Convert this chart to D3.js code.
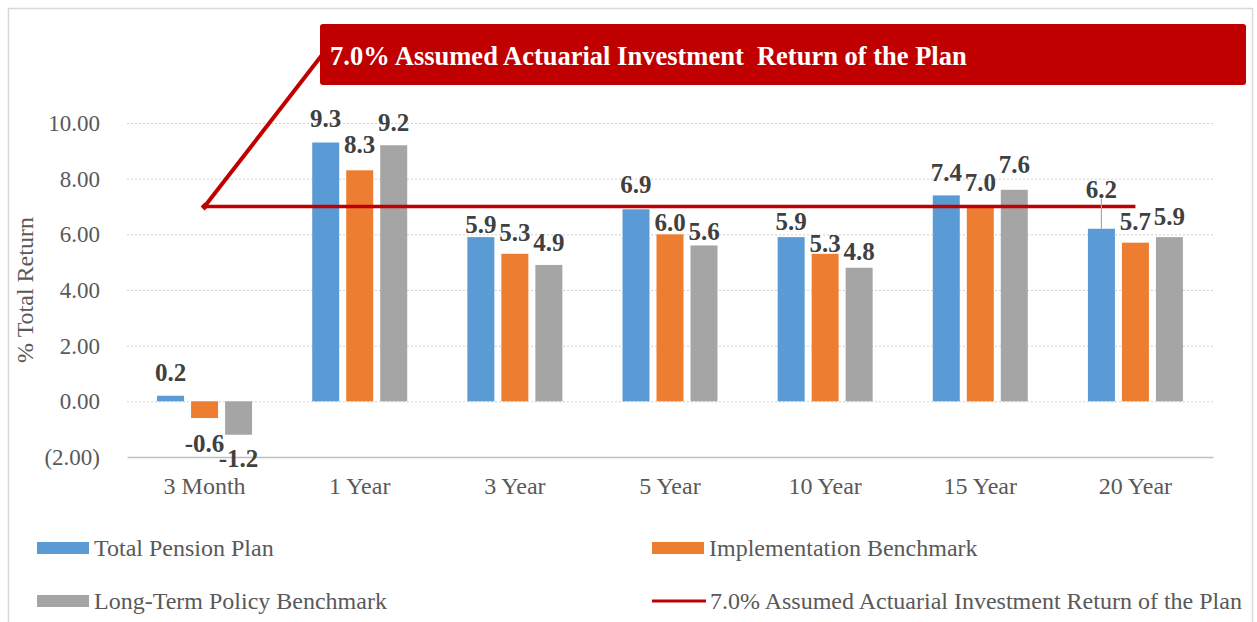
<!DOCTYPE html>
<html>
<head>
<meta charset="utf-8">
<script src="https://cdn.jsdelivr.net/npm/d3@7"></script>
<style>
  html, body { margin: 0; padding: 0; background: #fff; }
  svg { display: block; }
</style>
</head>
<body>
<svg id="chart" width="1257" height="622"></svg>
<script>
// ---- data ----
const categories = ["3 Month", "1 Year", "3 Year", "5 Year", "10 Year", "15 Year", "20 Year"];
const seriesNames = ["Total Pension Plan", "Implementation Benchmark", "Long-Term Policy Benchmark"];
const totalPensionPlan = [0.2, 9.3, 5.9, 6.9, 5.9, 7.4, 6.2];
const implementationBenchmark = [-0.6, 8.3, 5.3, 6.0, 5.3, 7.0, 5.7];
const longTermPolicyBenchmark = [-1.2, 9.2, 4.9, 5.6, 4.8, 7.6, 5.9];
const assumedReturn = [7.0, 7.0, 7.0, 7.0, 7.0, 7.0, 7.0];
const lineName = "7.0% Assumed Actuarial Investment Return of the Plan";
const calloutText = "7.0% Assumed Actuarial Investment\u00a0 Return of the Plan";
const yTicks = [-2, 0, 2, 4, 6, 8, 10];

// ---- styling (label nudges in px, not data) ----
const colors = ["#5B9BD5", "#ED7D31", "#A5A5A5"];
const red = "#C00000";
const labelDy = [
  [-24, 25, 24],
  [-24, -26, -23],
  [-13, -22, -23],
  [-25, -12, -14],
  [-16, -11, -16],
  [-23, -24, -26],
  [-40, -21, -21]
];

const seriesValues = [totalPensionPlan, implementationBenchmark, longTermPolicyBenchmark];
const svg = d3.select("#chart");
const font = "'Liberation Serif', 'Times New Roman', serif";
const fmt1 = v => d3.format(".1f")(v).replace("\u2212", "-");
const fmt2 = v => v < 0 ? "(" + d3.format(".2f")(-v) + ")" : d3.format(".2f")(v);

// frame
svg.append("rect").attr("x", 8.5).attr("y", 8.5).attr("width", 1244).attr("height", 630)
  .attr("fill", "#fff").attr("stroke", "#D9D9D9").attr("stroke-width", 1.5);

const x = d3.scaleBand().domain(categories).range([127, 1213]).padding(0);
const xs = d3.scaleBand().domain(d3.range(3)).range([-47.5, 47.5]).paddingInner(0.206).paddingOuter(0);
const y = d3.scaleLinear().domain([-2, 10]).range([457, 123]);

// gridlines
svg.append("g").selectAll("line").data(yTicks.filter(t => t !== -2)).join("line")
  .attr("x1", 127).attr("x2", 1213)
  .attr("y1", d => y(d) + 0.5).attr("y2", d => y(d) + 0.5)
  .attr("stroke", "#D0D0D0").attr("stroke-width", 1).attr("stroke-dasharray", "2,2");

// y axis labels
const yAxis = svg.append("g").attr("transform", "translate(127,0)")
  .call(d3.axisLeft(y).tickValues(yTicks).tickSize(0).tickPadding(27).tickFormat(fmt2));
yAxis.select(".domain").remove();
yAxis.selectAll("text").attr("font-family", font).attr("font-size", 23).attr("fill", "#595959");

// x axis
const xAxis = svg.append("g").attr("transform", `translate(0,${y(-2)})`)
  .call(d3.axisBottom(x).tickSize(0).tickPadding(20));
xAxis.select(".domain").attr("stroke", "#BFBFBF").attr("stroke-width", 1.5);
xAxis.selectAll("text").attr("font-family", font).attr("font-size", 24).attr("fill", "#595959");

// y title
svg.append("text").attr("transform", "translate(33,290) rotate(-90)")
  .attr("text-anchor", "middle").attr("font-family", font).attr("font-size", 24)
  .attr("fill", "#595959").text("% Total Return");

// bars
const flat = [];
categories.forEach((c, i) => seriesValues.forEach((vals, s) => flat.push({c, i, s, v: vals[i]})));
svg.append("g").selectAll("rect").data(flat).join("rect")
  .attr("x", d => x(d.c) + x.bandwidth() / 2 + xs(d.s))
  .attr("width", xs.bandwidth())
  .attr("y", d => y(Math.max(0, d.v)))
  .attr("height", d => Math.abs(y(d.v) - y(0)))
  .attr("fill", d => colors[d.s]);

// 7% line
const line = d3.line().x((d, i) => x(categories[i]) + x.bandwidth() / 2).y(d => y(d));
svg.append("path").datum(assumedReturn).attr("d", line)
  .attr("fill", "none").attr("stroke", red).attr("stroke-width", 3.5);

// leader line for 20 Year total plan label
{
  const i = 6, s = 0;
  const cx = x(categories[i]) + x.bandwidth() / 2 + xs(s) + xs.bandwidth() / 2;
  svg.append("line").attr("x1", cx).attr("x2", cx)
    .attr("y1", y(totalPensionPlan[i]) + labelDy[i][s] + 10).attr("y2", y(totalPensionPlan[i]))
    .attr("stroke", "#A6A6A6").attr("stroke-width", 1.2);
}

// data labels
svg.append("g").selectAll("text").data(flat).join("text")
  .attr("x", d => x(d.c) + x.bandwidth() / 2 + xs(d.s) + xs.bandwidth() / 2)
  .attr("y", d => y(d.v) + labelDy[d.i][d.s])
  .attr("dy", "0.35em")
  .attr("text-anchor", "middle").attr("font-family", font).attr("font-size", 25)
  .attr("font-weight", "bold").attr("fill", "#404040")
  .text(d => fmt1(d.v));

// callout
const anchorX = x(categories[0]) + x.bandwidth() / 2, anchorY = y(assumedReturn[0]);
svg.append("line").attr("x1", anchorX).attr("y1", anchorY).attr("x2", 322).attr("y2", 55)
  .attr("stroke", red).attr("stroke-width", 4);
svg.append("path").attr("d", d3.symbol(d3.symbolDiamond2, 40)())
  .attr("transform", `translate(${anchorX},${anchorY})`).attr("fill", red);
svg.append("rect").attr("x", 320).attr("y", 24).attr("width", 926).attr("height", 61)
  .attr("rx", 3).attr("fill", red);
svg.append("text").attr("x", 330).attr("y", 56).attr("dy", "0.35em")
  .attr("font-family", font).attr("font-size", 26.5).attr("font-weight", "bold")
  .attr("fill", "#fff").text(calloutText);

// legend
const legendItems = [
  {name: seriesNames[0], type: "bar", color: colors[0], x: 37, y: 548},
  {name: seriesNames[1], type: "bar", color: colors[1], x: 652, y: 548},
  {name: seriesNames[2], type: "bar", color: colors[2], x: 37, y: 601},
  {name: lineName, type: "line", color: red, x: 652, y: 601}
];
const lg = svg.append("g").selectAll("g").data(legendItems).join("g")
  .attr("transform", d => `translate(${d.x},${d.y})`);
lg.filter(d => d.type === "bar").append("rect")
  .attr("x", 0).attr("y", -6).attr("width", 52).attr("height", 12).attr("fill", d => d.color);
lg.filter(d => d.type === "line").append("line")
  .attr("x1", 0).attr("x2", 54).attr("y1", 0).attr("y2", 0)
  .attr("stroke", d => d.color).attr("stroke-width", 3);
lg.append("text").attr("x", d => d.type === "bar" ? 57 : 58).attr("y", 0).attr("dy", "0.35em")
  .attr("font-family", font).attr("font-size", 24).attr("fill", "#595959")
  .text(d => d.name);
</script>
</body>
</html>
